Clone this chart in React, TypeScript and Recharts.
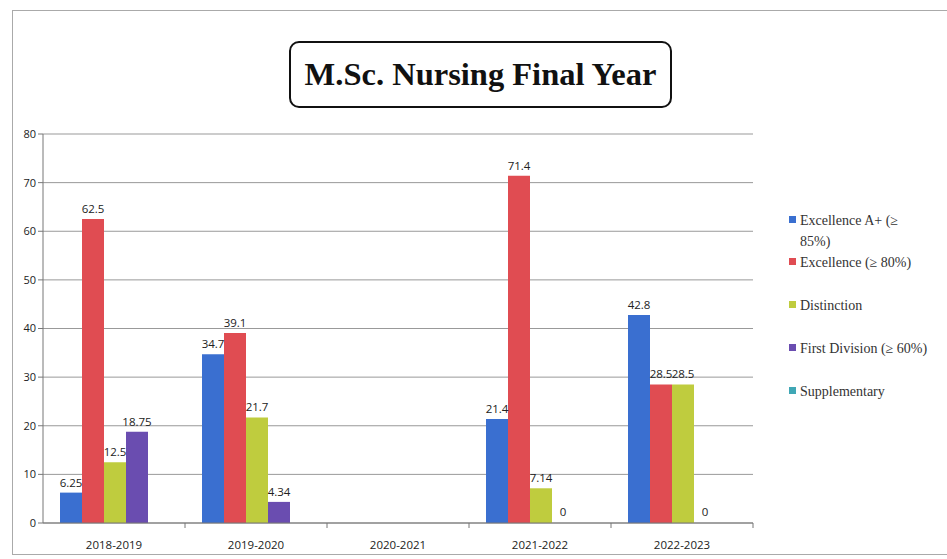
import React from 'react';
import { BarChart, Bar, XAxis, YAxis, CartesianGrid, LabelList, Cell } from 'recharts';

const years = ['2018-2019', '2019-2020', '2020-2021', '2021-2022', '2022-2023'];
const excellenceAPlus = [6.25, 34.7, null, 21.4, 42.8];
const excellence = [62.5, 39.1, null, 71.4, 28.5];
const distinction = [12.5, 21.7, null, 7.14, 28.5];
const firstDivision = [18.75, 4.34, null, 0, 0];
const supplementary = [null, null, null, null, null];
const yTicks = [0, 10, 20, 30, 40, 50, 60, 70, 80];

const series = [
  { key: 'aplus', name: 'Excellence A+ (≥', name2: '85%)', color: '#3a6fd0', values: excellenceAPlus },
  { key: 'exc', name: 'Excellence (≥ 80%)', color: '#e04c52', values: excellence },
  { key: 'dist', name: 'Distinction', color: '#bfcc3e', values: distinction },
  { key: 'first', name: 'First Division (≥ 60%)', color: '#6a4db0', values: firstDivision },
  { key: 'supp', name: 'Supplementary', color: '#3fa7b5', values: supplementary },
];

const data = years.map((year, i) => {
  const row: Record<string, any> = { year };
  series.forEach((s) => (row[s.key] = s.values[i]));
  return row;
});

const legendTops = [210, 252, 295, 338, 381];

const XTick = (props: any) => {
  const { x, y, payload } = props;
  const band = 142;
  return (
    <g>
      <line x1={x + band / 2} y1={y - 8} x2={x + band / 2} y2={y - 3} stroke="#777" />
      <text x={x} y={y + 18} textAnchor="middle" fontSize={11.5} fill="#222" fontFamily="'Open Sans', sans-serif">
        {payload.value}
      </text>
    </g>
  );
};

export default function App() {
  return (
    <div style={{ position: 'relative', width: 947, height: 559, background: '#fff', overflow: 'hidden' }}>
      <style>{`body{margin:0}`}</style>
      <div
        style={{
          position: 'absolute', left: 12, top: 10, width: 960, height: 545,
          border: '1.5px solid #aaa', boxSizing: 'border-box',
        }}
      />
      <BarChart
        width={947}
        height={559}
        data={data}
        margin={{ top: 134, right: 194, bottom: 0, left: 13 }}
        barCategoryGap={17}
        barGap={0}
      >
        <CartesianGrid vertical={false} stroke="#999" />
        <XAxis
          dataKey="year"
          height={36}
          axisLine={{ stroke: '#777' }}
          tickLine={false}
          tick={<XTick />}
          interval={0}
        />
        <YAxis
          width={30}
          domain={[0, 80]}
          ticks={yTicks}
          axisLine={{ stroke: '#777' }}
          tickLine={{ stroke: '#777' }}
          tickSize={5}
          tick={{ fontSize: 11, fill: '#222', fontFamily: "'Open Sans', sans-serif" }}
        />
        {series.map((s) => (
          <Bar
            key={s.key}
            dataKey={s.key}
            name={s.name}
            fill={s.color}
            minPointSize={(v: any) => (v === 0 ? 1 : 0)}
            isAnimationActive={false}
          >
            {data.map((row, i) => (
              <Cell key={i} fill={row[s.key] === 0 ? 'transparent' : s.color} />
            ))}
            <LabelList
              dataKey={s.key}
              position="top"
              offset={6}
              formatter={(v: any) => (v == null ? '' : String(v))}
              style={{ fontSize: 11.5, fill: '#222', fontFamily: "'Open Sans', sans-serif" }}
            />
          </Bar>
        ))}
      </BarChart>
      <div
        style={{
          position: 'absolute', left: 289, top: 41, width: 383, height: 67,
          border: '2px solid #111', borderRadius: 10, boxSizing: 'border-box',
          display: 'flex', alignItems: 'center', justifyContent: 'center',
          fontFamily: "'Liberation Serif', 'Times New Roman', serif", fontWeight: 'bold',
          fontSize: 32.5, color: '#111',
        }}
      >
        M.Sc. Nursing Final Year
      </div>
      {series.map((s, i) => (
        <div
          key={s.key}
          style={{
            position: 'absolute', left: 789, top: legendTops[i],
            fontFamily: "'Liberation Serif', 'Times New Roman', serif", fontSize: 14,
            color: '#333', lineHeight: '21px',
          }}
        >
          <span
            style={{
              display: 'inline-block', width: 7, height: 7, background: s.color,
              marginRight: 4, verticalAlign: 'middle', position: 'relative', top: -2,
            }}
          />
          {s.name}
          {s.name2 && <div style={{ paddingLeft: 11 }}>{s.name2}</div>}
        </div>
      ))}
    </div>
  );
}
